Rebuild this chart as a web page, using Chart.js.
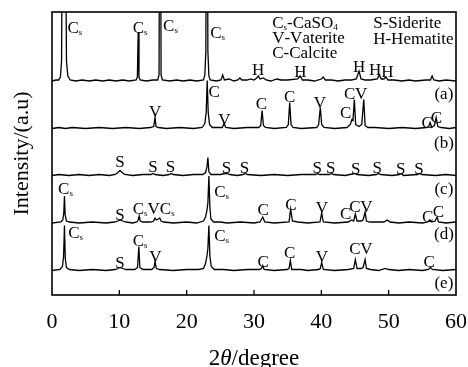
<!DOCTYPE html>
<html>
<head>
<meta charset="utf-8">
<script src="https://cdn.jsdelivr.net/npm/chart.js@4.4.1/dist/chart.umd.min.js"></script>
<style>
  html, body { margin: 0; padding: 0; background: #fff; }
</style>
</head>
<body>
<canvas id="xrd" width="468" height="367"></canvas>
<script>
// 2theta axis
var xTickValues = [0, 10, 20, 30, 40, 50, 60];

// vertical offset of each pattern (same units as the y scale)
var offsets = { a: 214, b: 166.5, c: 119.5, d: 72, e: 24.5 };

// [2theta, intensity above the pattern's own baseline]
var traceA = [[0,0],[0.6,1],[1.0,1],[1.25,4],[1.42,20],[1.5,120],[1.78,400],[2.05,120],[2.15,20],[2.35,5],[2.7,1],
  [3.5,0],[4.5,1],[5.5,0],[6.5,1],[7.5,0],[8.5,1],[9.5,0],[10.5,1],[11.5,0],[12.5,1],[12.68,4],[12.8,49],[12.92,4],[13.1,1],
  [14,0],[15,1],[15.7,1],[15.9,6],[16.05,400],[16.2,6],[16.4,1],[17.5,0],[18.5,1],[19.5,0],[20.5,1],[21.5,0],[22.5,1],
  [22.7,6],[22.85,30],[23.0,400],[23.15,30],[23.3,5],[23.5,1],[24.4,0],[25.1,1],[25.35,6],[25.6,1],[26.3,2],[27,0],
  [27.6,1],[27.9,3],[28.2,1],[29,1],[29.5,2],[30.0,1],[30.4,3],[30.65,5],[30.9,2],[31.4,3],[31.8,1],[32.5,0],[33.4,2],
  [34,1],[35,1],[36.5,2],[36.85,5],[37.2,1],[38,1],[39,0],[40.0,2],[40.3,4],[40.6,1],[41.5,1],[42.5,0],[43.5,1],[44.5,1],
  [45.2,2],[45.6,10],[45.9,2],[46.5,1],[47.3,1],[48.3,2],[48.6,6],[48.9,2],[49.3,2],[49.6,4],[49.9,1],[50.8,1],[52,0],
  [53,1],[54,0],[55.5,1],[56.2,1],[56.45,5],[56.7,1],[57.5,0],[58.5,1],[60,0]];

var traceB = [[0,0],[1,1],[2,0],[3,1],[5,0],[7,1],[9,0],[11,1],[13,0],[14.6,1],[15.1,2],[15.3,11],[15.45,2],[15.8,1],
  [17,0],[19,1],[21,0],[22.3,1],[22.7,5],[22.9,16],[23.05,48],[23.2,16],[23.4,4],[23.8,1],[25.3,1],[25.55,5],[25.8,1],
  [27,0],[29,1],[30.7,1],[31.0,3],[31.2,18],[31.4,3],[31.7,1],[33,0],[34.8,1],[35.1,4],[35.3,26],[35.5,4],[35.8,1],
  [37,0],[39.3,1],[39.6,4],[39.85,21],[40.05,4],[40.4,1],[42,0],[43.8,1],[44.3,4],[44.55,9],[44.7,8],[44.9,29],[45.1,4],
  [45.6,2],[46.0,4],[46.3,29],[46.5,3],[46.9,1],[48,1],[50,0],[52,1],[54,0],[55.6,1],[55.95,2],[56.15,6],[56.4,1],
  [56.8,3],[57.05,11],[57.3,2],[57.8,1],[59,0],[60,1]];

var traceC = [[0,0],[1,1],[2.5,0],[4,1],[5.5,0],[7,1],[8.5,0],[9.4,1],[9.8,3],[10.1,5],[10.4,3],[10.8,1],[12,0],
  [13.5,1],[14.7,1],[15.0,2],[15.3,1],[16.5,0],[17.4,1],[17.7,2],[18,1],[19.5,0],[21,1],[22.4,1],[22.8,3],[23.0,8],
  [23.15,18],[23.3,4],[23.6,1],[25,1],[25.7,2],[26.0,2],[26.4,1],[27.5,0],[28.4,1],[28.7,2],[29,1],[31,0],[33,1],
  [35,0],[37,1],[39.2,1],[39.4,2],[39.7,1],[41.2,1],[41.5,2],[41.8,1],[43.5,0],[45.0,2],[45.3,1],[47,0],[48.2,1],
  [48.5,2],[48.8,1],[50.5,0],[51.6,1],[51.9,2],[52.2,0],[54.3,1],[54.6,2],[54.9,1],[57,0],[58.5,1],[60,0]];

var traceD = [[0,0],[1.3,1],[1.6,3],[1.75,10],[1.85,27],[1.95,8],[2.15,2],[2.6,1],[4,0],[6,1],[8,0],[9.3,1],[9.8,2],
  [10.1,3],[10.5,2],[11,1],[12,0],[12.6,1],[12.8,3],[12.95,7],[13.1,2],[13.5,1],[14.6,1],[15.1,2],[15.3,5],[15.5,3],
  [15.8,4],[16.0,5],[16.2,2],[16.6,1],[18,0],[20,1],[21.5,0],[22.5,2],[22.8,6],[23.0,12],[23.15,20],[23.3,47],[23.45,15],
  [23.6,4],[24,1],[25,1],[26,0],[28,1],[30,0],[30.9,1],[31.3,6],[31.6,1],[33,0],[35.2,1],[35.45,14],[35.7,2],[36.5,1],
  [38,0],[39.8,1],[40.05,10],[40.3,1],[42,0],[44,1],[44.5,3],[44.8,2],[45.05,9],[45.3,2],[45.9,2],[46.2,3],[46.5,11],
  [46.7,2],[47.2,1],[48.2,1],[49.3,1],[49.8,3],[50.2,1],[51.5,0],[53,1],[55,0],[55.8,1],[56.1,3],[56.4,1],[56.9,2],
  [57.2,6],[57.4,1],[58.5,0],[60,1]];

var traceE = [[0,0],[1.2,1],[1.55,4],[1.72,14],[1.85,45],[1.97,12],[2.15,3],[2.6,1],[4,0],[6,1],[8,0],[9.4,1],[9.8,2],
  [10.1,3],[10.5,2],[11,1],[12.3,1],[12.7,3],[12.9,24],[13.05,3],[13.5,1],[14.8,1],[15.15,3],[15.3,9],[15.5,2],[16,1],
  [18,0],[20,1],[21.8,1],[22.5,2],[22.8,7],[23.0,14],[23.15,22],[23.3,45],[23.45,14],[23.65,4],[24.1,1],[25.5,1],[27,0],
  [29,1],[30.8,1],[31.1,2],[31.3,5],[31.5,1],[33,0],[34.9,1],[35.2,2],[35.4,10],[35.6,1],[37,1],[38,0],[39.6,1],
  [39.85,2],[40.05,8],[40.3,1],[42,0],[44,1],[44.8,2],[45.05,11],[45.3,2],[45.9,2],[46.2,3],[46.5,11],[46.7,2],[47.3,1],
  [48.5,0],[49.5,2],[50,1],[51.5,0],[53,1],[55,0],[55.9,1],[56.2,3],[56.5,1],[58,0],[60,1]];

// phase marks: [text, 2theta, y]   ("_" = next char is subscript)
var peakLabels = [
  ['C_s', 3.4, 268], ['C_s', 13.1, 268], ['C_s', 17.6, 270], ['C_s', 24.6, 262.5],
  ['H', 30.6, 226], ['H', 36.9, 224], ['H', 45.6, 229], ['H', 48.0, 226], ['H', 49.8, 224],
  ['V', 15.3, 184], ['C', 24.1, 204], ['V', 25.6, 176], ['C', 31.1, 192], ['C', 35.3, 199], ['V', 39.8, 193],
  ['C', 44.2, 202], ['V', 45.9, 202], ['C', 43.6, 183], ['C', 55.7, 173], ['C', 57.1, 178],
  ['S', 10.1, 134], ['S', 15.0, 129], ['S', 17.6, 129], ['S', 25.9, 128], ['S', 28.6, 128], ['S', 39.4, 128],
  ['S', 41.4, 128], ['S', 45.1, 127], ['S', 48.3, 128], ['S', 51.8, 127], ['S', 54.5, 127],
  ['C_s', 2.0, 107], ['S', 10.1, 81], ['C_sVC_s', 15.1, 87], ['C_s', 25.2, 104], ['C', 31.35, 86], ['C', 35.5, 91],
  ['V', 40.1, 88], ['C', 43.6, 82], ['C', 45.0, 89], ['V', 46.7, 89], ['C', 55.8, 79], ['C', 57.4, 83.5],
  ['C_s', 3.5, 62.5], ['S', 10.1, 33], ['C_s', 13.1, 55], ['V', 15.35, 39], ['C_s', 25.2, 60], ['C', 31.35, 34],
  ['C', 35.3, 43], ['V', 40.1, 39], ['C', 45.0, 47], ['V', 46.7, 47], ['C', 56.0, 34]
];
var traceTags = [['(a)', 58.2, 202], ['(b)', 58.2, 153], ['(c)', 58.2, 107], ['(d)', 58.2, 62], ['(e)', 58.2, 13]];
var legendLines = [['C_s-CaSO_4', 32.7, 273], ['V-Vaterite', 32.7, 257.5], ['C-Calcite', 32.7, 242.5],
  ['S-Siderite', 47.7, 272.5], ['H-Hematite', 47.7, 257]];

var SERIF = '"Liberation Serif", "Times New Roman", serif';

function toPoints(trace, off) {
  return trace.map(function (p) { return { x: p[0], y: p[1] + off }; });
}

function drawRich(ctx, text, x, y, size, align) {
  var parts = [];
  for (var i = 0; i < text.length; i++) {
    if (text[i] === '_' && i + 1 < text.length) { parts.push({ t: text[i + 1], sub: true }); i++; }
    else parts.push({ t: text[i], sub: false });
  }
  var subSize = Math.round(size * 0.55);
  var w = 0;
  parts.forEach(function (p) {
    ctx.font = (p.sub ? subSize : size) + 'px ' + SERIF;
    p.w = ctx.measureText(p.t).width;
    w += p.w;
  });
  var cx = align === 'left' ? x : x - w / 2;
  var base = y + size * 0.33;
  ctx.textAlign = 'left';
  ctx.textBaseline = 'alphabetic';
  parts.forEach(function (p) {
    ctx.font = (p.sub ? subSize : size) + 'px ' + SERIF;
    ctx.fillText(p.t, cx, p.sub ? base + 2 : base);
    cx += p.w;
  });
}

var decor = {
  id: 'decor',
  afterDatasetsDraw: function (chart) {
    var ctx = chart.ctx, a = chart.chartArea;
    var xs = chart.scales.x, ys = chart.scales.y;
    ctx.save();
    ctx.strokeStyle = '#000';
    ctx.fillStyle = '#000';
    // frame
    ctx.lineWidth = 1.6;
    ctx.strokeRect(a.left, a.top, a.right - a.left, a.bottom - a.top);
    // inward ticks
    ctx.lineWidth = 1.3;
    xTickValues.forEach(function (v) {
      if (v === xs.min || v === xs.max) return;
      var px = xs.getPixelForValue(v);
      ctx.beginPath();
      ctx.moveTo(px, a.bottom);
      ctx.lineTo(px, a.bottom - 5);
      ctx.stroke();
    });
    peakLabels.forEach(function (l) {
      drawRich(ctx, l[0], xs.getPixelForValue(l[1]), ys.getPixelForValue(l[2]), 17, 'center');
    });
    traceTags.forEach(function (l) {
      drawRich(ctx, l[0], xs.getPixelForValue(l[1]), ys.getPixelForValue(l[2]), 17, 'center');
    });
    legendLines.forEach(function (l) {
      drawRich(ctx, l[0], xs.getPixelForValue(l[1]), ys.getPixelForValue(l[2]), 17, 'left');
    });
    // x axis title, theta in italics
    var size = 23;
    var pieces = [['2', ''], ['\u03b8', 'italic '], ['/degree', '']];
    var total = 0;
    pieces.forEach(function (p) { ctx.font = p[1] + size + 'px ' + SERIF; p.w = ctx.measureText(p[0]).width; total += p.w; });
    var tx = (a.left + a.right) / 2 - total / 2;
    ctx.textAlign = 'left';
    ctx.textBaseline = 'alphabetic';
    pieces.forEach(function (p) { ctx.font = p[1] + size + 'px ' + SERIF; ctx.fillText(p[0], tx, 365); tx += p.w; });
    ctx.restore();
  }
};

var lineStyle = { borderColor: '#000', borderWidth: 1.3, pointRadius: 0, fill: false, tension: 0 };
var datasets = [
  Object.assign({ label: '(a)', data: toPoints(traceA, offsets.a) }, lineStyle),
  Object.assign({ label: '(b)', data: toPoints(traceB, offsets.b) }, lineStyle),
  Object.assign({ label: '(c)', data: toPoints(traceC, offsets.c) }, lineStyle),
  Object.assign({ label: '(d)', data: toPoints(traceD, offsets.d) }, lineStyle),
  Object.assign({ label: '(e)', data: toPoints(traceE, offsets.e) }, lineStyle)
];

new Chart(document.getElementById('xrd'), {
  type: 'line',
  data: { datasets: datasets },
  options: {
    responsive: false,
    animation: false,
    layout: { padding: { top: 12, right: 0, left: 0, bottom: 0 } },
    plugins: { legend: { display: false }, tooltip: { enabled: false } },
    scales: {
      x: {
        type: 'linear',
        min: 0,
        max: 60,
        afterBuildTicks: function (scale) { scale.ticks = xTickValues.map(function (v) { return { value: v }; }); },
        afterFit: function (scale) { scale.height = 72; scale.paddingLeft = 0; scale.paddingRight = 12; },
        grid: { display: false, drawTicks: false },
        border: { display: false },
        ticks: { color: '#000', padding: 14, maxRotation: 0, font: { family: SERIF, size: 22 } }
      },
      y: {
        min: 0,
        max: 283,
        afterFit: function (scale) { scale.width = 52; },
        grid: { display: false, drawTicks: false },
        border: { display: false },
        ticks: { display: false },
        title: { display: true, text: 'Intensity/(a.u)', color: '#000', padding: { top: 9, bottom: 0 },
          font: { family: SERIF, size: 22 } }
      }
    }
  },
  plugins: [decor]
});
</script>
</body>
</html>
